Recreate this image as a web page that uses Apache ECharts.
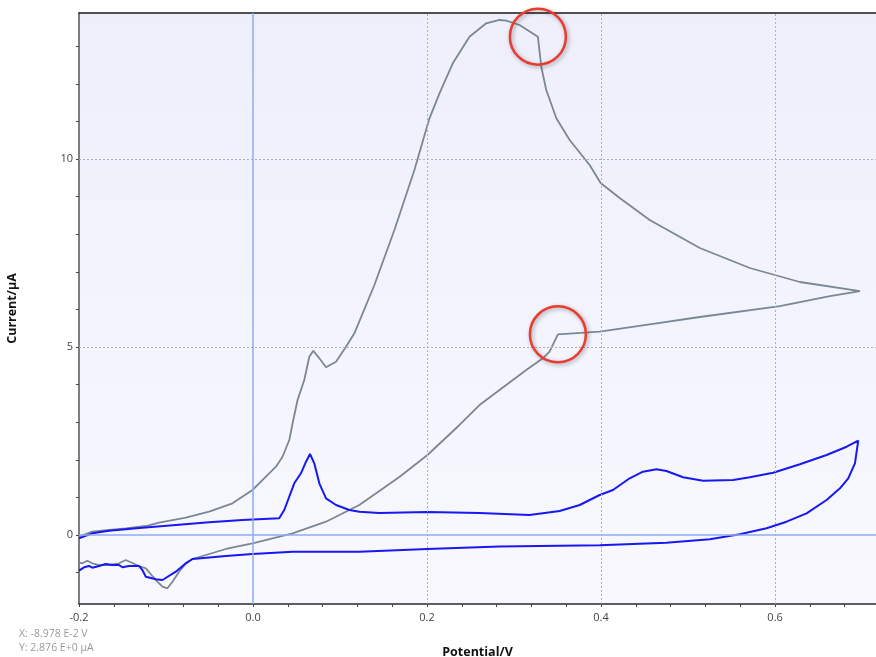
<!DOCTYPE html>
<html>
<head>
<meta charset="utf-8">
<title>Cyclic voltammogram</title>
<script src="https://cdn.jsdelivr.net/npm/echarts@6/dist/echarts.min.js"></script>
<style>
  html, body { margin: 0; padding: 0; background: #ffffff; }
  #chart { width: 876px; height: 657px; }
</style>
</head>
<body>
<div id="chart"></div>
<script>
// Scan 1 (grey): forward sweep, then the return sweep
const grayV = [
  -0.2, -0.1847, -0.1655, -0.1463, -0.1232, -0.1079, -0.0772, -0.0504, -0.0236, -0.0006,
  0.0148, 0.0264, 0.0339, 0.0417, 0.0455, 0.0512, 0.0589, 0.0647, 0.0693, 0.0762,
  0.0839, 0.0954, 0.1069, 0.1165, 0.1395, 0.1625, 0.1855, 0.2028, 0.2143, 0.2296,
  0.2488, 0.2680, 0.2833, 0.2910, 0.3063, 0.3274, 0.3313, 0.3370, 0.3486, 0.3639,
  0.3869, 0.3995, 0.4214, 0.4559, 0.5135, 0.5710, 0.6285, 0.6976,
  0.6631, 0.6055, 0.5135, 0.4559, 0.3984, 0.3504, 0.3408, 0.3331, 0.3140, 0.2833,
  0.2603, 0.2373, 0.2005, 0.1682, 0.1222, 0.0839, 0.0455, -0.0006, -0.0312, -0.0542,
  -0.0696, -0.0772, -0.0849, -0.0926, -0.0984, -0.1041, -0.1117, -0.1232, -0.1310, -0.1463,
  -0.1540, -0.1655, -0.1770, -0.1847, -0.1904, -0.1962, -0.2
];
const grayI = [
  -0.045, 0.088, 0.133, 0.178, 0.239, 0.327, 0.460, 0.620, 0.843, 1.197,
  1.551, 1.816, 2.082, 2.527, 2.971, 3.590, 4.122, 4.742, 4.902, 4.699,
  4.460, 4.609, 5.008, 5.364, 6.649, 8.112, 9.707, 11.082, 11.747, 12.545,
  13.253, 13.609, 13.697, 13.678, 13.564, 13.253, 12.455, 11.835, 11.082, 10.505,
  9.840, 9.362, 8.963, 8.378, 7.633, 7.101, 6.729, 6.489,
  6.356, 6.090, 5.798, 5.604, 5.407, 5.338, 4.875, 4.699, 4.388, 3.856,
  3.457, 2.926, 2.128, 1.543, 0.798, 0.354, 0.045, -0.221, -0.372, -0.532,
  -0.638, -0.753, -0.976, -1.242, -1.418, -1.375, -1.197, -0.886, -0.824, -0.665,
  -0.753, -0.798, -0.798, -0.753, -0.684, -0.753, -0.737
];

// Scan 2 (blue): forward sweep, then the return sweep
const blueV = [
  -0.2, -0.1847, -0.1655, -0.1272, -0.0887, -0.0504, -0.0121, 0.0301, 0.0359, 0.0474,
  0.0551, 0.0609, 0.0655, 0.0704, 0.0762, 0.0839, 0.0954, 0.1107, 0.1222, 0.1452,
  0.2005, 0.2603, 0.3178, 0.3524, 0.3754, 0.3984, 0.4137, 0.4329, 0.4482, 0.4636,
  0.4751, 0.4943, 0.5173, 0.5518, 0.5710, 0.5978, 0.6285, 0.6592, 0.6823, 0.6956,
  0.6918, 0.6841, 0.6746, 0.6592, 0.6362, 0.6132, 0.5902, 0.5595, 0.5250, 0.4751,
  0.4367, 0.3984, 0.2833, 0.2005, 0.1222, 0.0455, -0.0006, -0.0312, -0.0696, -0.0772,
  -0.0887, -0.1041, -0.1117, -0.1232, -0.1272, -0.1310, -0.1425, -0.1502, -0.1540, -0.1617,
  -0.1693, -0.1770, -0.1847, -0.1885, -0.1942, -0.2
];
const blueI = [
  -0.088, 0.045, 0.114, 0.194, 0.266, 0.338, 0.399, 0.444, 0.665, 1.375,
  1.641, 1.949, 2.154, 1.907, 1.375, 0.976, 0.798, 0.665, 0.620, 0.585,
  0.612, 0.585, 0.532, 0.638, 0.798, 1.064, 1.197, 1.508, 1.684, 1.747,
  1.702, 1.535, 1.444, 1.463, 1.535, 1.657, 1.880, 2.128, 2.348, 2.508,
  1.907, 1.508, 1.242, 0.931, 0.577, 0.354, 0.178, 0.019, -0.114, -0.205,
  -0.239, -0.274, -0.306, -0.372, -0.444, -0.444, -0.505, -0.559, -0.638, -0.753,
  -0.976, -1.197, -1.178, -1.109, -0.931, -0.824, -0.824, -0.859, -0.798, -0.798,
  -0.771, -0.824, -0.870, -0.824, -0.859, -0.949
];

// Axis ticks and labels
const xTicks = [-0.2, -0.16, -0.12, -0.08, -0.04, 0, 0.04, 0.08, 0.12, 0.16, 0.2, 0.24, 0.28,
  0.32, 0.36, 0.4, 0.44, 0.48, 0.52, 0.56, 0.6, 0.64, 0.68];
const xLabels = [-0.2, 0, 0.2, 0.4, 0.6];
const yTicks = [-1, 0, 1, 2, 3, 4, 5, 6, 7, 8, 9, 10, 11, 12, 13];
const yLabels = [0, 5, 10];
const xGrid = [0.2, 0.4, 0.6];
const yGrid = [5, 10];

// Points where the curves bend sharply (circled)
const circledGray = [35, 53];

const cursorText = ['X: -8.978 E-2 V', 'Y: 2.876 E+0 \u00b5A'];

function pairs(xs, ys) { return xs.map((x, i) => [x, ys[i]]); }

const font = '"Open Sans", "Noto Sans", sans-serif';
const chart = echarts.init(document.getElementById('chart'), null, { renderer: 'canvas' });

const gridLine = { color: '#b0b0b8', type: [2, 2], width: 1 };
const zeroLine = { color: '#8eacf2', type: 'solid', width: 1.5 };

chart.setOption({
  animation: false,
  backgroundColor: '#ffffff',
  grid: {
    left: 79, right: 0, top: 13, bottom: 53,
    outerBoundsMode: 'none', containLabel: false,
    show: true, borderWidth: 0,
    backgroundColor: new echarts.graphic.LinearGradient(0, 0, 0, 1, [
      { offset: 0, color: '#efeffc' },
      { offset: 1, color: '#f8f8fe' }
    ])
  },
  xAxis: [{
    type: 'value', min: -0.2, max: 0.716,
    name: 'Potential/V', nameLocation: 'middle', nameGap: 42,
    nameTextStyle: { fontFamily: font, fontWeight: 'bold', fontSize: 12.5, color: '#111' },
    axisLine: { show: true, onZero: false, lineStyle: { color: '#2a2a2a', width: 1.5 } },
    axisTick: { show: true, length: 3, customValues: xTicks, lineStyle: { color: '#444' } },
    axisLabel: {
      customValues: xLabels, margin: 8, color: '#444', fontFamily: font, fontSize: 11,
      formatter: v => v.toFixed(1)
    },
    splitLine: { show: false }
  }, {
    type: 'value', position: 'top', min: -0.2, max: 0.716,
    axisLine: { show: true, onZero: false, lineStyle: { color: '#1a1a1a', width: 1.5 } },
    axisTick: { show: false }, axisLabel: { show: false }, splitLine: { show: false }
  }],
  yAxis: {
    type: 'value', min: -1.835, max: 13.883,
    name: 'Current/\u00b5A', nameLocation: 'middle', nameGap: 60,
    nameTextStyle: { fontFamily: font, fontWeight: 'bold', fontSize: 12.5, color: '#111' },
    axisLine: { show: true, onZero: false, lineStyle: { color: '#555', width: 1.5 } },
    axisTick: { show: true, length: 3, customValues: yTicks, lineStyle: { color: '#444' } },
    axisLabel: { customValues: yLabels, margin: 6, color: '#444', fontFamily: font, fontSize: 11 },
    splitLine: { show: false }
  },
  series: [
    {
      // reference lines drawn beneath the curves
      type: 'line', data: [], silent: true,
      markLine: {
        silent: true, symbol: 'none', label: { show: false },
        data: [
          ...xGrid.map(v => ({ xAxis: v, lineStyle: gridLine })),
          ...yGrid.map(v => ({ yAxis: v, lineStyle: gridLine })),
          { xAxis: 0, lineStyle: zeroLine },
          { yAxis: 0, lineStyle: zeroLine }
        ]
      }
    },
    {
      name: 'Scan 1', type: 'line', data: pairs(grayV, grayI),
      showSymbol: false, smooth: false,
      lineStyle: { color: '#7b8795', width: 1.8 },
      markPoint: {
        symbol: 'circle', symbolSize: 56, label: { show: false },
        itemStyle: {
          color: 'rgba(0,0,0,0)', borderColor: '#ea3b2f', borderWidth: 2.5,
          shadowBlur: 4, shadowColor: 'rgba(0,0,0,0.35)', shadowOffsetX: 1.5, shadowOffsetY: 1.5
        },
        data: circledGray.map(i => ({ coord: [grayV[i], grayI[i]] }))
      }
    },
    {
      name: 'Scan 2', type: 'line', data: pairs(blueV, blueI),
      showSymbol: false, smooth: false,
      lineStyle: { color: '#1818f0', width: 2 }
    }
  ],
  graphic: cursorText.map((t, i) => ({
    type: 'text', left: 19, top: 629 + i * 14,
    style: { text: t, fill: '#9a9a9a', font: '10.5px ' + font }
  }))
});
</script>
</body>
</html>
